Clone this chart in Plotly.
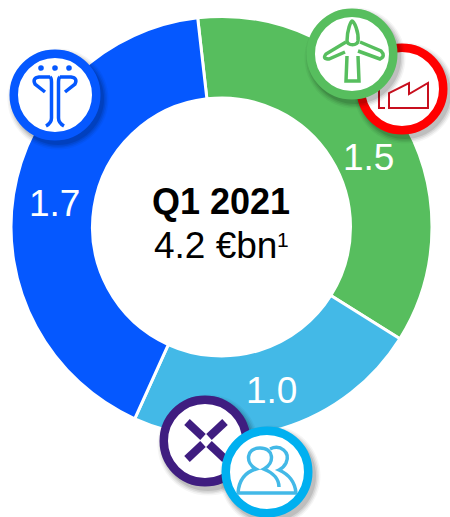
import re
import plotly.graph_objects as go

W, H = 450, 517
categories = ["Renewables", "Customers", "Networks"]
slice_values = [1.5, 0.96, 1.74]
slice_labels = ["1.5", "1.0", "1.7"]
slice_colors = ["#57BE5E", "#43B9E7", "#0558FF"]
title_main = "Q1 2021"
title_sub = "4.2 €bn"
title_note = "1"

def px(x): return x / W
def py(y): return 1 - y / H

def path(s):
    toks = re.findall(r"[MLCQZ]|-?\d+\.?\d*", s)
    out, even = [], True
    for t in toks:
        if t.isalpha():
            out.append(t); even = True
        else:
            v = float(t)
            out.append(f"{px(v):.5f}" if even else f"{py(v):.5f}")
            even = not even
    return " ".join(out)

shapes = []
def circle(cx, cy, r, fill="white", line=None, lw=0, op=1):
    shapes.append(dict(type="circle", xref="paper", yref="paper", layer="above",
                       x0=px(cx-r), x1=px(cx+r), y0=py(cy+r), y1=py(cy-r),
                       fillcolor=fill, opacity=op,
                       line=dict(color=line or "rgba(0,0,0,0)", width=lw)))
def stroke(d, color, w=3, fill="rgba(0,0,0,0)"):
    shapes.append(dict(type="path", xref="paper", yref="paper", layer="above",
                       path=path(d), fillcolor=fill,
                       line=dict(color=color, width=w)))
def badge(cx, cy, color, lw=8.5, r=45.5):
    for dr, op in ((5, .04), (3.5, .06), (2, .08), (0.5, .1)):
        circle(cx+3, cy+4, r+dr, "black", op=op)
    circle(cx, cy, r-lw/2, "white", color, lw)

# Blue badge: three dots and figure
B = "#0558FF"
badge(55, 95, B)
for x in (41, 55, 69):
    circle(x, 68, 2.8, B)
stroke("M50 77 L39 77 Q32 78 35 84 L45 92", B, 3.5)
stroke("M60 77 L71 77 Q78 78 75 84 L65 92", B, 3.5)
stroke("M50 77 Q51.5 78 51.5 82 L51.5 118 Q51.5 123 46 126", B, 3.5)
stroke("M60 77 Q58.5 78 58.5 82 L58.5 118 Q58.5 123 64 126", B, 3.5)

# Red factory badge
badge(402, 89, "#FF0000")
D = "#C80F1E"
stroke("M389 108 L428 108 L428 83 L409 94 L409 83 L389 93 Z", D, 2)
stroke("M379 90 L379 108 L385 108", D, 2)

# Green turbine badge (drawn over the red one)
G = "#57BE5E"
badge(352, 54, G)
stroke("M347 56 L346 81 L359 81 L358 56", G, 3.5)
stroke("M347 41 C347 30 351 21 352 21 C354 21 359 32 358 41 C357 46 348 46 347 41 Z", G, 3.5)
stroke("M346 42 L326 54 Q322 59 329 59 L345 52", G, 3.5)
stroke("M360 42 L381 51 Q386 56 380 59 L358 51", G, 3.5)

# Purple cross badge
P = "#3F1D80"
badge(205, 441, P)
stroke("M187 422 L203 437", P, 8)
stroke("M225 422 L209 437", P, 8)
stroke("M187 459 L203 444", P, 8)
stroke("M225 459 L209 444", P, 8)

# Cyan people badge
badge(267, 472, "#00B0F0")
C = "#43B9E7"
stroke("M238 493 C239 480 246 472 256 469 C245 463 246 448 260 448 C274 448 275 463 264 469 C274 473 279 480 279 487", C, 3.5)
stroke("M270 449 C280 444 291 452 286 463 C284 467 281 469 279 470 C288 474 295 482 296 493", C, 3.5)
stroke("M237 493 L297 493", C, 3.5)

annots = []
def label(txt, x, y, size, color, bold=False):
    annots.append(dict(text=f"<b>{txt}</b>" if bold else txt, x=px(x), y=py(y),
                       xref="paper", yref="paper", showarrow=False,
                       xanchor="center", yanchor="middle",
                       font=dict(family="Liberation Sans, Arial", size=size, color=color)))
label(slice_labels[0], 368, 157, 37, "white")
label(slice_labels[1], 271, 390, 37, "white")
label(slice_labels[2], 54, 203, 37, "white")
label(title_main, 221, 201, 36, "black", True)
label(title_sub, 215.5, 245, 37, "black")
label(title_note, 283, 239, 21, "black")

cx, cy, R = 221.5, 227, 210.5
fig = go.Figure(go.Pie(
    labels=categories, values=slice_values, sort=False, direction="clockwise",
    rotation=353.5, hole=129/210.5, textinfo="none", hoverinfo="skip",
    marker=dict(colors=slice_colors, line=dict(color="white", width=3)),
    domain=dict(x=[px(cx-R), px(cx+R)], y=[py(cy+R), py(cy-R)]),
))
fig.update_layout(width=W, height=H, margin=dict(l=0, r=0, t=0, b=0),
                  showlegend=False, paper_bgcolor="white",
                  shapes=shapes, annotations=annots)
fig.write_html("out.html", config=dict(displayModeBar=False),
               post_script="document.body.style.margin='0';document.body.style.overflow='hidden';")
